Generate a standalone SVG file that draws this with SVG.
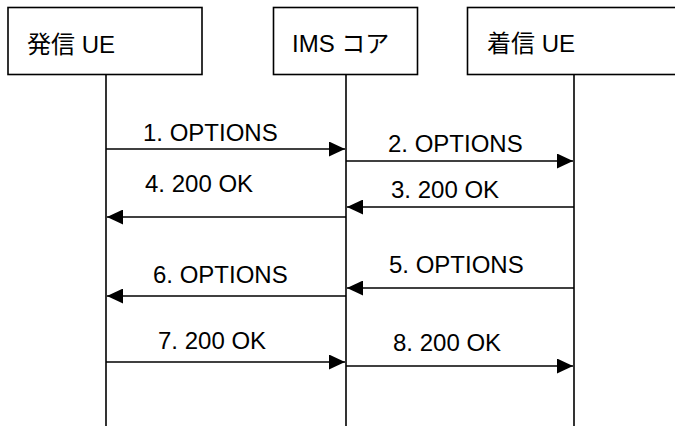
<svg xmlns="http://www.w3.org/2000/svg" width="675" height="426" viewBox="0 0 675 426">
<style>
.box{fill:#fff;stroke:#000;stroke-width:1.6}
.life{stroke:#000;stroke-width:1.6;fill:none}
.msg{stroke:#000;stroke-width:1.6;fill:none;marker-end:url(#ah)}
.t{font-family:"Liberation Sans","Noto Sans CJK JP",sans-serif;font-size:24px;fill:#000}
</style>
<defs>
<marker id="ah" viewBox="0 0 16 15" refX="16" refY="7.5" markerWidth="16" markerHeight="15" markerUnits="userSpaceOnUse" orient="auto">
<path d="M0,0 L16,7.5 L0,15 Z" fill="#000"/>
</marker>
</defs>
<rect width="675" height="426" fill="#fff"/>
<g id="node-caller">
<rect class="box" x="8" y="7.5" width="194" height="67"/>
<text class="t" x="27" y="53">発信 UE</text>
</g>
<g id="node-ims">
<rect class="box" x="273.5" y="7.5" width="144" height="67"/>
<text class="t" x="292" y="52">IMS コア</text>
</g>
<g id="node-callee">
<rect class="box" x="467.5" y="7.5" width="220" height="67"/>
<text class="t" x="487" y="52">着信 UE</text>
</g>
<g id="connectors">
<line class="life" x1="106" y1="74.5" x2="106" y2="426"/>
<line class="life" x1="346" y1="74.5" x2="346" y2="426"/>
<line class="life" x1="574" y1="74.5" x2="574" y2="426"/>
<line class="msg" x1="106" y1="149" x2="345" y2="149"/>
<line class="msg" x1="346" y1="161" x2="573" y2="161"/>
<line class="msg" x1="574" y1="207" x2="347" y2="207"/>
<line class="msg" x1="346" y1="217" x2="107" y2="217"/>
<line class="msg" x1="574" y1="288" x2="347" y2="288"/>
<line class="msg" x1="346" y1="296" x2="107" y2="296"/>
<line class="msg" x1="106" y1="362" x2="345" y2="362"/>
<line class="msg" x1="346" y1="366" x2="573" y2="366"/>
<text class="t" x="143" y="141">1. OPTIONS</text>
<text class="t" x="388" y="152">2. OPTIONS</text>
<text class="t" x="391" y="198">3. 200 OK</text>
<text class="t" x="145" y="192">4. 200 OK</text>
<text class="t" x="389" y="273">5. OPTIONS</text>
<text class="t" x="153" y="283">6. OPTIONS</text>
<text class="t" x="158" y="349">7. 200 OK</text>
<text class="t" x="393" y="351">8. 200 OK</text>
</g>
</svg>
